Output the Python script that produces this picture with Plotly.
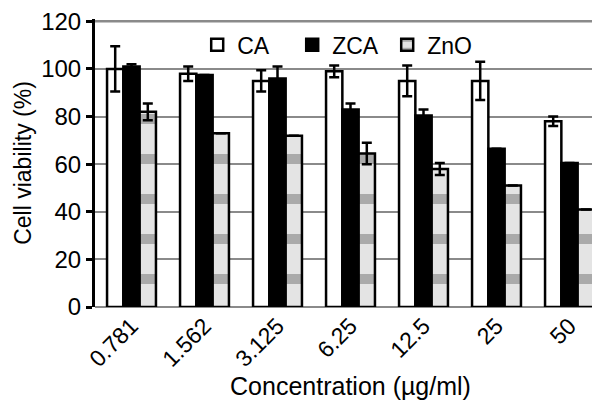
import plotly.graph_objects as go

categories = ["0.781", "1.562", "3.125", "6.25", "12.5", "25", "50"]
ca = [100, 98, 95, 99, 95, 95, 78]
ca_err = [9.5, 3, 4.5, 2.5, 6.5, 8, 2]
zca = [101, 97.5, 96, 83, 80.5, 66.5, 60.5]
zca_err = [1, 0, 5, 2.5, 2.5, 0, 0]
zno = [82, 73, 72, 64.5, 58, 51, 41]
zno_err = [3.5, 0, 0, 4.5, 2.5, 0, 0]
y_ticks = [0, 20, 40, 60, 80, 100, 120]

font = dict(family="Liberation Sans, Arial, sans-serif", color="black")

def eb(v):
    return dict(type="data", array=v, visible=True, color="black", thickness=2.5, width=5)

fig = go.Figure()
fig.add_bar(name="CA", x=categories, y=ca, error_y=eb(ca_err),
            marker=dict(color="white", line=dict(color="black", width=2.5)))
fig.add_bar(name="ZCA", x=categories, y=zca, error_y=eb(zca_err),
            marker=dict(color="black", line=dict(color="black", width=2.5)))
fig.add_bar(name="ZnO", x=categories, y=zno, error_y=eb(zno_err),
            marker=dict(color="#d8d8d8", line=dict(color="black", width=2.5),
                        pattern=dict(shape="-", fgcolor="#707070", bgcolor="#e4e4e4",
                                     size=40, solidity=0.25)))

# top gridline (plotly omits the grid at the plot edge)
fig.add_shape(type="line", xref="paper", x0=0, x1=1, yref="y", y0=y_ticks[-1], y1=y_ticks[-1],
              line=dict(color="#8a8a8a", width=2), layer="above")

fig.update_layout(
    width=600, height=403,
    margin=dict(l=87, r=2, t=11, b=104, autoexpand=False),
    paper_bgcolor="white", plot_bgcolor="white",
    barmode="group", bargap=0.33, bargroupgap=0,
    font=dict(size=22, **font),
    showlegend=True,
    legend=dict(orientation="h", x=0.2, y=0.985, xanchor="left", yanchor="top",
                font=dict(size=23, **font), bgcolor="rgba(0,0,0,0)",
                itemwidth=30, entrywidth=50, tracegroupgap=0),
    xaxis=dict(tickangle=-45, tickfont=dict(size=23, **font), automargin=False,
               title=dict(text="Concentration (µg/ml)", font=dict(size=25, **font), standoff=0),
               showline=False, ticks=""),
    yaxis=dict(range=[0, 121], tickvals=y_ticks, automargin=False,
               ticklabeloverflow="allow",
               tickfont=dict(size=24, **font),
               title=dict(text="Cell viability (%)", font=dict(size=23, **font), standoff=4),
               showgrid=True, gridcolor="#8a8a8a", gridwidth=2,
               showline=True, linecolor="black", linewidth=3,
               ticks="outside", ticklen=6, tickwidth=3, tickcolor="black",
               zeroline=True, zerolinecolor="#8a8a8a", zerolinewidth=2),
)

fig.write_html("out.html")
